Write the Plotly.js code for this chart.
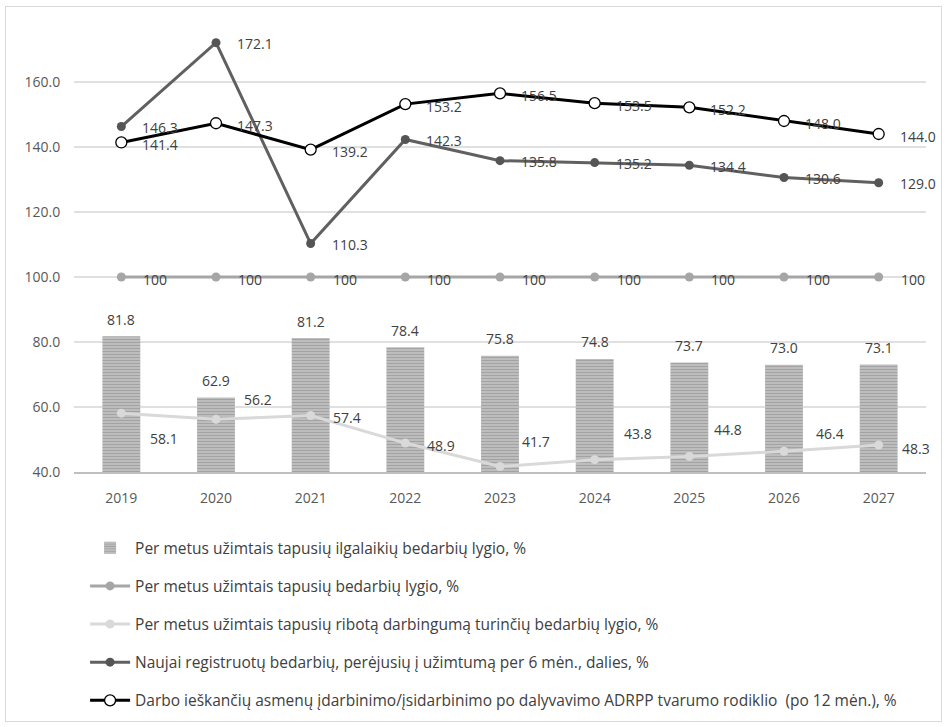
<!DOCTYPE html>
<html><head><meta charset="utf-8">
<script src="https://cdn.plot.ly/plotly-3.0.1.min.js"></script>
<style>
html,body{margin:0;padding:0;background:#fff;}
#wrap{position:relative;width:948px;height:727px;}
#chart{width:948px;height:727px;}
#frame{position:absolute;left:5px;top:6px;width:935px;height:714px;border:1px solid #d9d9d9;pointer-events:none;}
</style></head>
<body>
<div id="wrap"><div id="chart"></div><div id="frame"></div></div>
<script>
const years = ['2019','2020','2021','2022','2023','2024','2025','2026','2027'];
const longTermBars = [81.8, 62.9, 81.2, 78.4, 75.8, 74.8, 73.7, 73.0, 73.1];
const baseLevel = [100, 100, 100, 100, 100, 100, 100, 100, 100];
const disabledLevel = [58.1, 56.2, 57.4, 48.9, 41.7, 43.8, 44.8, 46.4, 48.3];
const newRegistered = [146.3, 172.1, 110.3, 142.3, 135.8, 135.2, 134.4, 130.6, 129.0];
const sustainability = [141.4, 147.3, 139.2, 153.2, 156.5, 153.5, 152.2, 148.0, 144.0];
const yTicks = [40, 60, 80, 100, 120, 140, 160];
const names = [
  'Per metus užimtais tapusių ilgalaikių bedarbių lygio, %',
  'Per metus užimtais tapusių bedarbių lygio, %',
  'Per metus užimtais tapusių ribotą darbingumą turinčių bedarbių lygio, %',
  'Naujai registruotų bedarbių, perėjusių į užimtumą per 6 mėn., dalies, %',
  'Darbo ieškančių asmenų įdarbinimo/įsidarbinimo po dalyvavimo ADRPP tvarumo rodiklio  (po 12 mėn.), %'
];
// label placement offsets (pixels) for the light-grey series
const disabledShiftX = [27, 26, 20, 20, 20, 27, 23, 30, 21];
const disabledShiftY = [-25, 20, -2, -2, 25, 26, 27, 18, -3];

const lblFont = {family:'Open Sans, sans-serif', size:14, color:'#404040'};

const traces = [
  {type:'bar', x:years, y:longTermBars, name:names[0], legendgroup:'a',
   width:0.4,
   marker:{color:'#b0b0b0', line:{width:0},
     pattern:{shape:'-', size:3, solidity:0.6, fgcolor:'#7a7a7a', bgcolor:'#cdcdcd', fillmode:'overlay'}}},
  {type:'scatter', mode:'lines+markers', x:years, y:baseLevel, name:names[1], legendgroup:'b',
   line:{color:'#a6a6a6', width:3}, marker:{color:'#a6a6a6', size:9}},
  {type:'scatter', mode:'lines+markers', x:years, y:disabledLevel, name:names[2], legendgroup:'c',
   line:{color:'#d9d9d9', width:3}, marker:{color:'#d9d9d9', size:9}},
  {type:'scatter', mode:'lines+markers', x:years, y:newRegistered, name:names[3], legendgroup:'d',
   line:{color:'#606060', width:3}, marker:{color:'#555555', size:9}},
  {type:'scatter', mode:'lines+markers', x:years, y:sustainability, name:names[4], legendgroup:'e',
   line:{color:'#000000', width:3}, marker:{color:'#ffffff', size:11, line:{color:'#000000', width:1.3}}}
];

const annotations = [];
function addLabels(vals, fmt, dx, dy, opts) {
  vals.forEach((v, i) => {
    annotations.push(Object.assign({
      x: i, y: v, xref:'x', yref:'y', showarrow:false,
      text: fmt(v), xanchor:'left', yanchor:'middle',
      xshift: Array.isArray(dx) ? dx[i] : dx,
      yshift: Array.isArray(dy) ? dy[i] : dy,
      font: lblFont
    }, opts || {}));
  });
}
const f1 = v => v.toFixed(1);
addLabels(longTermBars, f1, 0, 17, {xanchor:'center'});
addLabels(baseLevel, v => String(v), 20, -2);
addLabels(disabledLevel, f1, disabledShiftX, disabledShiftY);
addLabels(newRegistered, f1, 19, -1);
addLabels(sustainability, f1, 19, -2);

const layout = {
  width:948, height:727,
  margin:{l:74, r:22, t:17, b:255, autoexpand:false},
  paper_bgcolor:'#ffffff', plot_bgcolor:'#ffffff',
  font:{family:'Open Sans, sans-serif', size:14, color:'#595959'},
  showlegend:true,
  legend:{orientation:'v', x:0.013, xanchor:'left', y:-0.13, yanchor:'top',
    traceorder:'grouped', tracegroupgap:15, itemwidth:40,
    font:{family:'Open Sans, sans-serif', size:15.5, color:'#404040'}, bgcolor:'rgba(0,0,0,0)'},
  xaxis:{type:'category', range:[-0.5, 8.5], showgrid:false, zeroline:false,
    showline:true, linecolor:'#bfbfbf', linewidth:2,
    ticks:'outside', ticklen:12, tickcolor:'rgba(0,0,0,0)',
    tickfont:{family:'Open Sans, sans-serif', size:14, color:'#595959'}},
  yaxis:{range:[40,180], tickvals:yTicks, tickformat:'.1f',
    showgrid:true, gridcolor:'#e0e0e0', gridwidth:1.5, zeroline:false, showline:false,
    ticks:'outside', ticklen:10, tickcolor:'rgba(0,0,0,0)',
    tickfont:{family:'Open Sans, sans-serif', size:14, color:'#595959'}},
  annotations: annotations,
  bargap:0.6
};

Plotly.newPlot('chart', traces, layout, {displayModeBar:false, staticPlot:true});
</script>
</body></html>
